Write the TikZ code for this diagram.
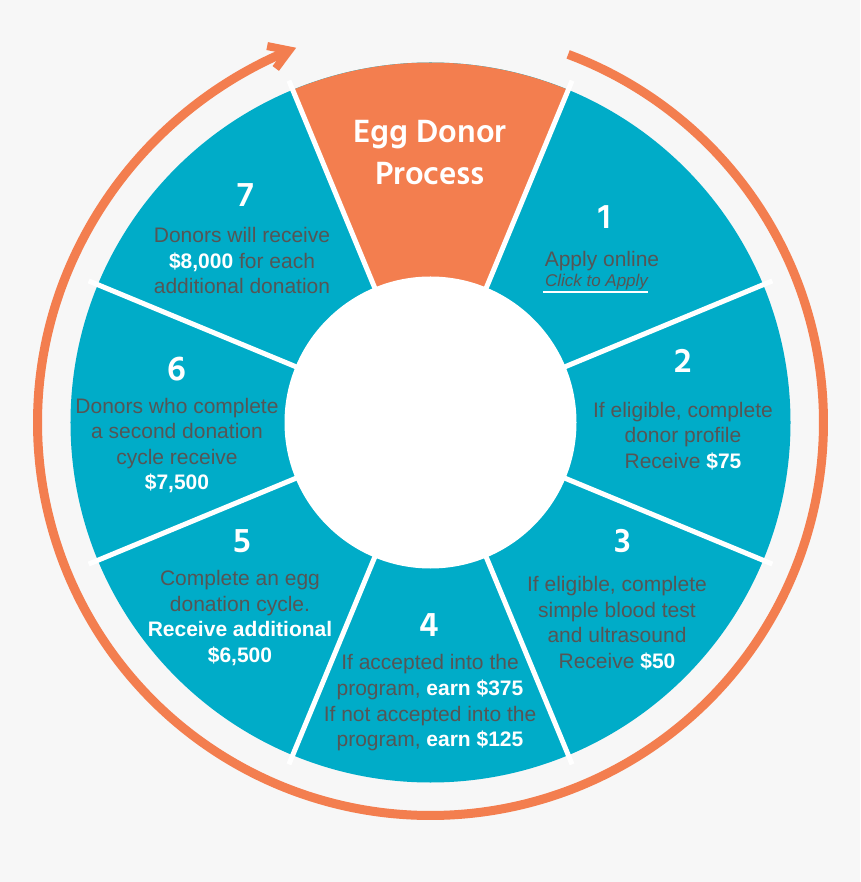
\documentclass[tikz,border=0pt]{standalone}
\usepackage{fontspec}
\setmainfont{Liberation Sans}
\newfontfamily\headfont{Hind Siliguri}
\definecolor{tealc}{RGB}{0,172,200}
\definecolor{orng}{RGB}{243,126,79}
\definecolor{bgc}{RGB}{247,247,247}
\definecolor{txt}{RGB}{85,85,85}
\newcommand\wb[1]{\textbf{\color{white}#1}}
\begin{document}
\begin{tikzpicture}[x=1pt,y=1pt,
  divider/.style={white, line width=5pt},
  digit/.style={font=\headfont\bfseries\fontsize{35}{35}\selectfont, text=white, inner sep=0pt, anchor=base},
  body/.style={font=\fontsize{21}{25.6}\selectfont, text=txt, align=center, inner sep=0pt, anchor=base},
  arcline/.style={orng, line width=9pt},
]
\useasboundingbox (-430.5,-459.5) rectangle (429.5,422.5);
\fill[bgc] (-430.5,-459.5) rectangle (429.5,422.5);
% wheel
\fill[tealc] (0,0) circle[radius=360];
\fill[orng] (0,0) -- (67.5:360) arc[start angle=67.5, end angle=112.5, radius=360] -- cycle;
\foreach \a in {22.5,67.5,...,337.5} \draw[divider] (0,0) -- (\a:370);
\node[circle, fill=white, minimum size=292pt, inner sep=0pt] (hub) at (0,0) {};
% cycle arrow
\draw[arcline] plot[domain=0:1, samples=200, smooth] ({69.5-318.7*\x}:{393+5*pow(max(0,(\x-0.85)/0.15),2)});
\begin{scope}[shift={(110.8:398)}, rotate=21]
\draw[orng, line width=8pt, line join=miter] (-19,12) -- (0,0) -- (-19,-12);
\end{scope}
% title (base = last line)
\node[font=\headfont\bfseries\fontsize{33}{42}\selectfont, text=white, align=center, inner sep=0pt, anchor=base] (title) at (-0.5,238.2) {Egg Donor\\Process};
% digits
\node[digit] (d1) at (174.5,193.5) {1};
\node[digit] (d2) at (252.8,49.5) {2};
\node[digit] (d3) at (192.8,-129.5) {3};
\node[digit] (d4) at (-1.5,-213.5) {4};
\node[digit] (d5) at (-187.8,-129.5) {5};
\node[digit] (d6) at (-253.8,41.5) {6};
\node[digit] (d7) at (-184.8,215.5) {7};
% texts (anchor base = baseline of last line)
\node[body] (t1) at (171.5,155.8) {Apply online};
\node[font=\itshape\fontsize{17}{20}\selectfont, text=txt, inner sep=0pt, anchor=base] (click) at (166,135.5) {Click to Apply};
\draw[white, line width=1.7pt] ([xshift=-2pt,yshift=-4.7pt]click.base west) -- ([yshift=-4.7pt]click.base east);
\node[body] (t2) at (252.5,-45.8) {If eligible, complete\\donor profile\\Receive \wb{\$75}};
\node[body] (t3) at (186.5,-245.8) {If eligible, complete\\simple blood test\\and ultrasound\\Receive \wb{\$50}};
\node[body] (t4) at (-0.5,-324.2) {If accepted into the\\program, \wb{earn \$375}\\If not accepted into the\\program, \wb{earn \$125}};
\node[body] (t5) at (-190.5,-239.8) {Complete an egg\\donation cycle.\\\wb{Receive additional}\\\wb{\$6,500}};
\node[body] (t6) at (-253.5,-67.5) {Donors who complete\\a second donation\\cycle receive\\\wb{\$7,500}};
\node[body] (t7) at (-188.5,128.5) {Donors will receive\\\wb{\$8,000} for each\\additional donation};
\end{tikzpicture}
\end{document}
